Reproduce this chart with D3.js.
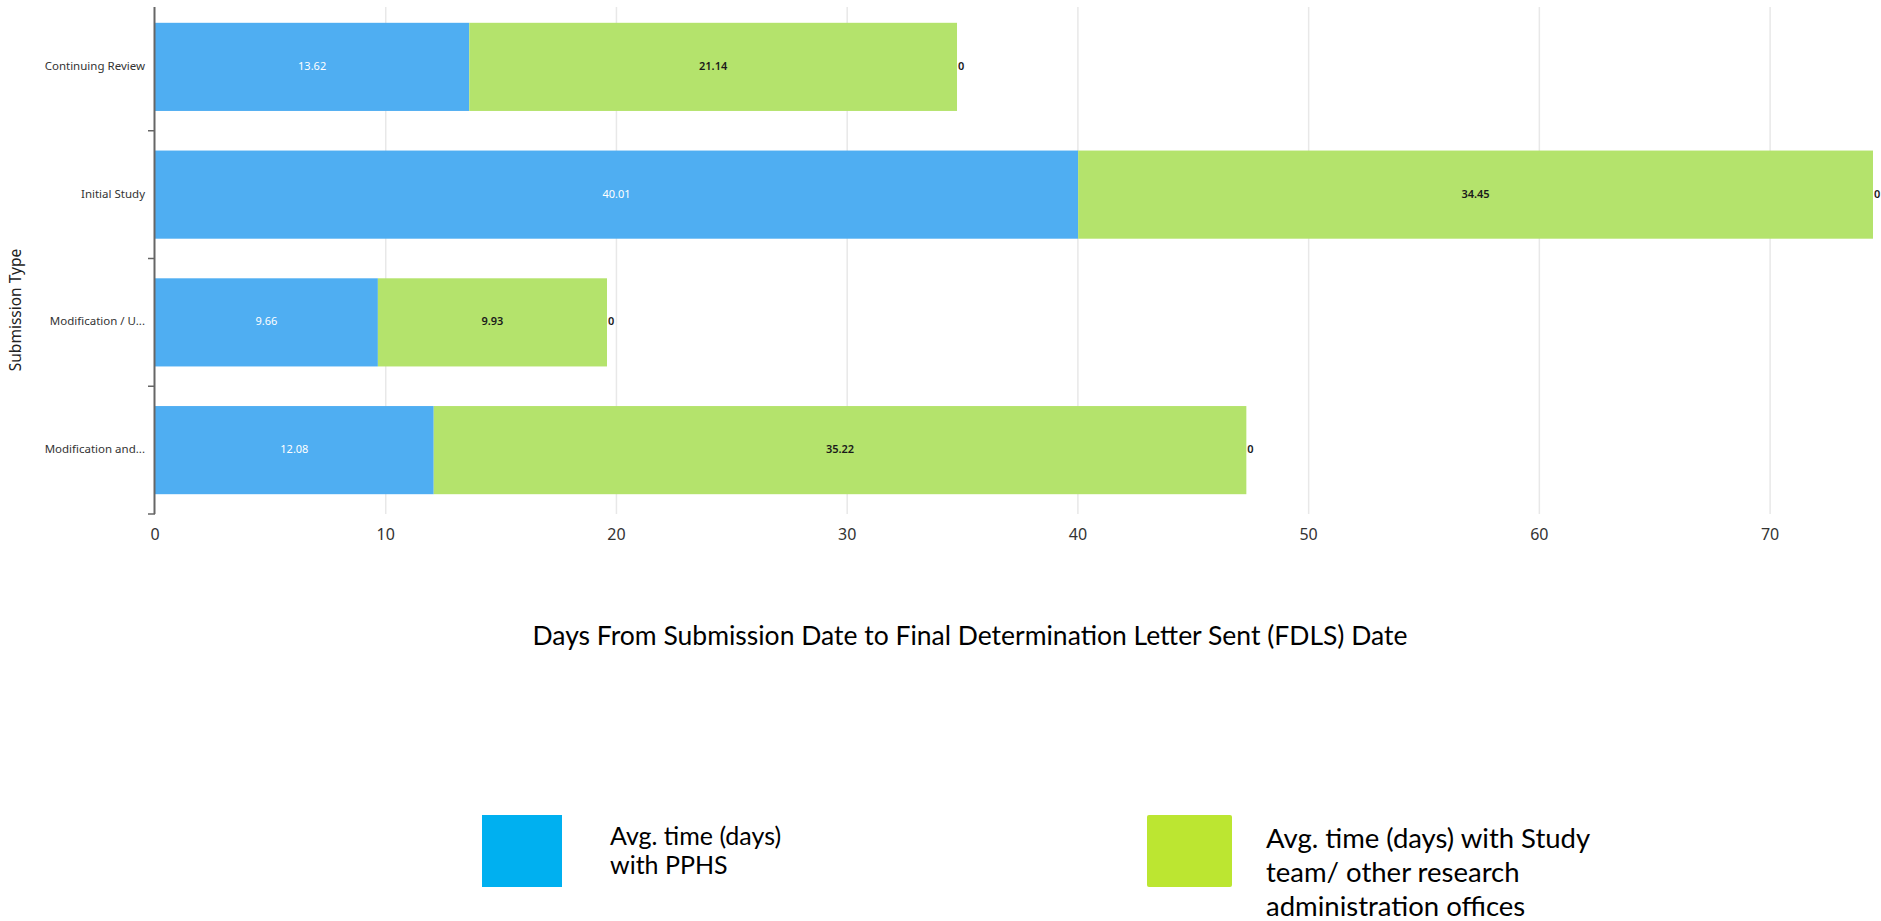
<!DOCTYPE html>
<html>
<head>
<meta charset="utf-8">
<script src="https://cdn.jsdelivr.net/npm/d3@7"></script>
<style>
  body { margin: 0; background: #fff; }
  svg { display: block; }
  .cat-label { font-family: "Noto Sans", sans-serif; font-size: 11.5px; fill: #333; }
  .tick-label { font-family: "Noto Sans", sans-serif; font-size: 16px; fill: #333; }
  .bar-label { font-family: "Noto Sans", sans-serif; font-size: 11px; }
  .office { font-family: Lato, "Liberation Sans Narrow", sans-serif; fill: #000; }
</style>
</head>
<body>
<svg id="chart" width="1881" height="921"></svg>
<script>
// data
const categories = ['Continuing Review', 'Initial Study', 'Modification / U...', 'Modification and...'];
const pphsDays = [13.62, 40.01, 9.66, 12.08];
const studyTeamDays = [21.14, 34.45, 9.93, 35.22];
const otherDays = [0, 0, 0, 0];
const xTicks = [0, 10, 20, 30, 40, 50, 60, 70];
const seriesKeys = ['pphs', 'study', 'other'];
const legendLabels = [
  ['Avg. time (days)', 'with PPHS'],
  ['Avg. time (days) with Study', 'team/ other research', 'administration offices'],
];

const rows = categories.map((c, i) => ({
  category: c,
  pphs: pphsDays[i],
  study: studyTeamDays[i],
  other: otherDays[i],
}));

const barColors = { pphs: '#4faef2', study: '#b4e36c', other: '#8c6bd6' };
const labelColors = { pphs: '#ffffff', study: '#1a1a1a', other: '#1a1a1a' };
const legendColors = ['#00b0f0', '#bce631'];

const margin = { left: 155, top: 3, right: 8, bottom: 407 };
const width = 1881;
const height = 921;

const svg = d3.select('#chart');

const totals = rows.map((d) => d.pphs + d.study + d.other);

const x = d3.scaleLinear()
  .domain([0, d3.max(totals)])
  .range([margin.left, width - margin.right]);

const y = d3.scaleBand()
  .domain(categories)
  .range([margin.top, height - margin.bottom])
  .paddingInner(0.31)
  .paddingOuter(0.155);

const plotTop = y.range()[0] + 4;
const plotBottom = y.range()[1];

// grid lines
svg.append('g')
  .attr('class', 'grid')
  .selectAll('line')
  .data(xTicks.filter((t) => t > 0))
  .enter()
  .append('line')
  .attr('x1', (d) => x(d))
  .attr('x2', (d) => x(d))
  .attr('y1', plotTop)
  .attr('y2', plotBottom)
  .attr('stroke', '#e8e8e8')
  .attr('stroke-width', 1.5);

// x tick labels
svg.append('g')
  .selectAll('text')
  .data(xTicks)
  .enter()
  .append('text')
  .attr('class', 'tick-label')
  .attr('x', (d) => x(d))
  .attr('y', plotBottom + 22)
  .attr('text-anchor', 'middle')
  .attr('dominant-baseline', 'middle')
  .text((d) => d);

// stacked bars
const stack = d3.stack().keys(seriesKeys);
const stacked = stack(rows);

const layers = svg.append('g')
  .attr('class', 'bars')
  .selectAll('g')
  .data(stacked)
  .enter()
  .append('g')
  .attr('fill', (s) => barColors[s.key]);

layers.selectAll('rect')
  .data((s) => s)
  .enter()
  .append('rect')
  .attr('x', (d) => x(d[0]))
  .attr('y', (d) => y(d.data.category))
  .attr('width', (d) => x(d[1]) - x(d[0]))
  .attr('height', y.bandwidth());

// value labels
stacked.forEach((s) => {
  svg.append('g')
    .selectAll('text')
    .data(s)
    .enter()
    .append('text')
    .attr('class', 'bar-label')
    .attr('x', (d) => (s.key === 'other' ? x(d[1]) + 1 : (x(d[0]) + x(d[1])) / 2))
    .attr('y', (d) => y(d.data.category) + y.bandwidth() / 2)
    .attr('text-anchor', s.key === 'other' ? 'start' : 'middle')
    .attr('dominant-baseline', 'middle')
    .attr('fill', labelColors[s.key])
    .attr('font-weight', s.key === 'pphs' ? 400 : 600)
    .text((d) => d3.format('~f')(+(d[1] - d[0]).toFixed(2)));
});

// y axis line and ticks at the band edges
const yAxis = svg.append('g').attr('class', 'y-axis');
yAxis.append('line')
  .attr('x1', x(0) - 0.5)
  .attr('x2', x(0) - 0.5)
  .attr('y1', plotTop)
  .attr('y2', plotBottom)
  .attr('stroke', '#666')
  .attr('stroke-width', 2);

yAxis.selectAll('.edge')
  .data(categories.slice(1).concat(['__end']))
  .enter()
  .append('line')
  .attr('class', 'edge')
  .attr('x1', x(0) - 7)
  .attr('x2', x(0))
  .attr('y1', (d) => (d === '__end' ? plotBottom : y(d) - y.step() * y.paddingInner() / 2))
  .attr('y2', (d) => (d === '__end' ? plotBottom : y(d) - y.step() * y.paddingInner() / 2))
  .attr('stroke', '#666')
  .attr('stroke-width', 1.5);

yAxis.selectAll('.cat-label')
  .data(categories)
  .enter()
  .append('text')
  .attr('class', 'cat-label')
  .attr('x', x(0) - 10)
  .attr('y', (d) => y(d) + y.bandwidth() / 2)
  .attr('text-anchor', 'end')
  .attr('dominant-baseline', 'middle')
  .text((d) => d);

// axis titles
svg.append('text')
  .attr('class', 'cat-label')
  .attr('transform', 'translate(21, 310) rotate(-90)')
  .attr('text-anchor', 'middle')
  .style('font-size', '15.5px')
  .style('fill', '#222')
  .text('Submission Type');

svg.append('text')
  .attr('class', 'office')
  .attr('x', 970)
  .attr('y', 645)
  .attr('text-anchor', 'middle')
  .style('font-size', '26.5px')
  .text('Days From Submission Date to Final Determination Letter Sent (FDLS) Date');

// legend
const legendX = [482, 1147];
const legendFont = [25, 27.5];
const legendText = [{ x: 128, y: 30, dy: 29 }, { x: 119, y: 33, dy: 34 }];

const legend = svg.append('g')
  .attr('class', 'legend')
  .selectAll('g')
  .data(legendLabels)
  .enter()
  .append('g')
  .attr('transform', (d, i) => `translate(${legendX[i]}, 815)`);

legend.append('rect')
  .attr('width', (d, i) => (i === 0 ? 80 : 85))
  .attr('height', 72)
  .attr('rx', (d, i) => (i === 0 ? 0 : 2))
  .attr('fill', (d, i) => legendColors[i]);

legend.each(function (lines, i) {
  d3.select(this).append('text')
    .attr('class', 'office')
    .style('font-size', `${legendFont[i]}px`)
    .selectAll('tspan')
    .data(lines)
    .enter()
    .append('tspan')
    .attr('x', legendText[i].x)
    .attr('y', (d, j) => legendText[i].y + j * legendText[i].dy)
    .text((d) => d);
});
</script>
</body>
</html>
